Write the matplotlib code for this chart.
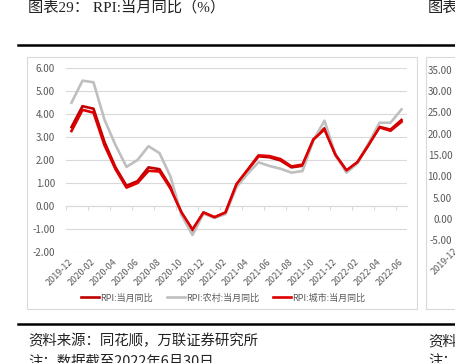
import matplotlib
matplotlib.use('Agg')
import matplotlib.pyplot as plt
import matplotlib.transforms as mtransforms
from matplotlib.patches import Rectangle
from matplotlib.lines import Line2D
import numpy as np

plt.rcParams['font.family'] = ['Noto Sans CJK SC', 'DejaVu Sans']

# 月份（2019-12 至 2022-06）
meses = ['2019-12', '2020-01', '2020-02', '2020-03', '2020-04', '2020-05',
         '2020-06', '2020-07', '2020-08', '2020-09', '2020-10', '2020-11',
         '2020-12', '2021-01', '2021-02', '2021-03', '2021-04', '2021-05',
         '2021-06', '2021-07', '2021-08', '2021-09', '2021-10', '2021-11',
         '2021-12', '2022-01', '2022-02', '2022-03', '2022-04', '2022-05',
         '2022-06']

# RPI 当月同比 (%)
rpi_total = [3.43, 4.34, 4.23, 2.78, 1.68, 0.88, 1.08, 1.68, 1.60, 0.83,
             -0.30, -1.06, -0.29, -0.49, -0.29, 0.93, 1.55, 2.16, 2.12, 1.98,
             1.68, 1.75, 2.90, 3.38, 2.22, 1.53, 1.90, 2.66, 3.44, 3.32, 3.74]
rpi_rural = [4.49, 5.45, 5.38, 3.75, 2.65, 1.70, 2.00, 2.60, 2.30, 1.28,
             -0.40, -1.26, -0.33, -0.52, -0.35, 0.82, 1.40, 1.90, 1.74, 1.62,
             1.45, 1.52, 2.87, 3.71, 2.22, 1.45, 1.86, 2.72, 3.62, 3.62, 4.20]
rpi_city = [3.26, 4.18, 4.06, 2.64, 1.60, 0.80, 1.00, 1.53, 1.50, 0.76,
            -0.28, -1.02, -0.28, -0.49, -0.28, 0.95, 1.57, 2.20, 2.17, 2.04,
            1.72, 1.80, 2.90, 3.33, 2.22, 1.55, 1.91, 2.65, 3.42, 3.27, 3.66]

etiquetas = ['RPI:当月同比', 'RPI:农村:当月同比', 'RPI:城市:当月同比']
colores = ['#C00000', '#BFBFBF', '#DC0000']

# eje derecho (gráfico siguiente, sólo se ve el borde)
yticks_derecha = [-5, 0, 5, 10, 15, 20, 25, 30, 35]

W, H = 455, 363
gris_txt = '#595959'
gris_lin = '#D9D9D9'


def fx(px):
    return px / W


def fy(py):
    return 1 - py / H


fig = plt.figure(figsize=(W / 100, H / 100), dpi=100)
fig.patch.set_facecolor('white')

# ---- gráfico principal ----
ax = fig.add_axes([fx(66), fy(252), (407 - 66) / W, (252 - 68) / H])
x = np.arange(len(meses))
lineas = []
for serie, color in zip([rpi_total, rpi_rural, rpi_city], colores):
    l, = ax.plot(x, serie, color=color, lw=1.9)
    lineas.append(l)

ax.set_xlim(-0.5, len(meses) - 0.5)
ax.set_ylim(-2, 6)
ax.set_yticks(np.arange(-2, 7))
ax.set_yticklabels([f'{v:.2f}' for v in np.arange(-2, 7)])
ax.yaxis.grid(True, color=gris_lin, lw=0.8)
ax.set_axisbelow(True)
for s in ax.spines.values():
    s.set_visible(False)
ax.tick_params(axis='y', length=0, pad=8, labelsize=7, labelcolor=gris_txt)

ax.set_xticks(x[::2])
ax.set_xticklabels(meses[::2], rotation=45, ha='right')
ax.tick_params(axis='x', length=0, pad=4, labelsize=6.5, labelcolor=gris_txt)
desplaza = mtransforms.ScaledTranslation(3 / 100, 0, fig.dpi_scale_trans)
for lbl in ax.get_xticklabels():
    lbl.set_transform(lbl.get_transform() + desplaza)

# eje en y=0 con marcas entre categorías
eje0 = ax.secondary_xaxis(0.25)
eje0.set_xticks(np.arange(-0.5, len(meses), 2))
eje0.tick_params(length=3, color=gris_lin, width=0.8, labelbottom=False, labeltop=False)
for s in eje0.spines.values():
    s.set_color(gris_lin)
    s.set_linewidth(0.8)

leg = fig.legend(lineas, etiquetas, loc='center', bbox_to_anchor=(fx(223), fy(298)),
                 ncol=3, frameon=False, fontsize=6.5, handlelength=2.0,
                 handletextpad=0.1, columnspacing=1.6)
for t in leg.get_texts():
    t.set_color(gris_txt)

# marcos
fig.add_artist(Rectangle((fx(27), fy(309)), (417 - 27) / W, (309 - 57) / H,
                         transform=fig.transFigure, fill=False, ec=gris_lin, lw=0.8))
fig.add_artist(Rectangle((fx(426), fy(309)), 60 / W, (309 - 57) / H,
                         transform=fig.transFigure, fill=False, ec=gris_lin, lw=0.8))

# ---- gráfico de la derecha (cortado) ----
ax2 = fig.add_axes([fx(462), fy(240), 0.3, (240 - 70) / H])
ax2.set_ylim(-5, 35)
ax2.set_yticks(yticks_derecha)
ax2.set_yticklabels([f'{v:.2f}' for v in yticks_derecha])
ax2.set_xticks([])
for s in ax2.spines.values():
    s.set_visible(False)
ax2.patch.set_visible(False)
ax2.tick_params(axis='y', length=0, pad=7, labelsize=7, labelcolor=gris_txt)
fig.text(fx(436), fy(276), '2019-12', rotation=45, rotation_mode='anchor',
         ha='left', va='bottom', fontsize=6.5, color=gris_txt)

# líneas negras gruesas
for yy in (44.5, 323.5):
    fig.add_artist(Line2D([fx(18), fx(419)], [fy(yy), fy(yy)], color='black', lw=1.8))
    fig.add_artist(Line2D([fx(421), fx(455)], [fy(yy), fy(yy)], color='black', lw=1.8))

# títulos y notas
fig.text(fx(28), fy(7), '图表29： RPI:当月同比（%）', fontsize=11, va='center',
         color='#222222', family=['Liberation Serif', 'Noto Sans CJK SC'])
fig.text(fx(428), fy(7), '图表', fontsize=11, va='center', color='#222222')
fig.text(fx(28), fy(341), '资料来源：同花顺，万联证券研究所', fontsize=10.4,
         va='center', color='#222222')
fig.text(fx(28), fy(355), '注：数据截至2022年6月30日', fontsize=10.4,
         va='top', color='#222222')
fig.text(fx(428), fy(341), '资料', fontsize=10.4, va='center', color='#222222')
fig.text(fx(428), fy(355), '注：', fontsize=10.4, va='top', color='#222222')

fig.savefig('out.png', dpi=100, facecolor='white')
